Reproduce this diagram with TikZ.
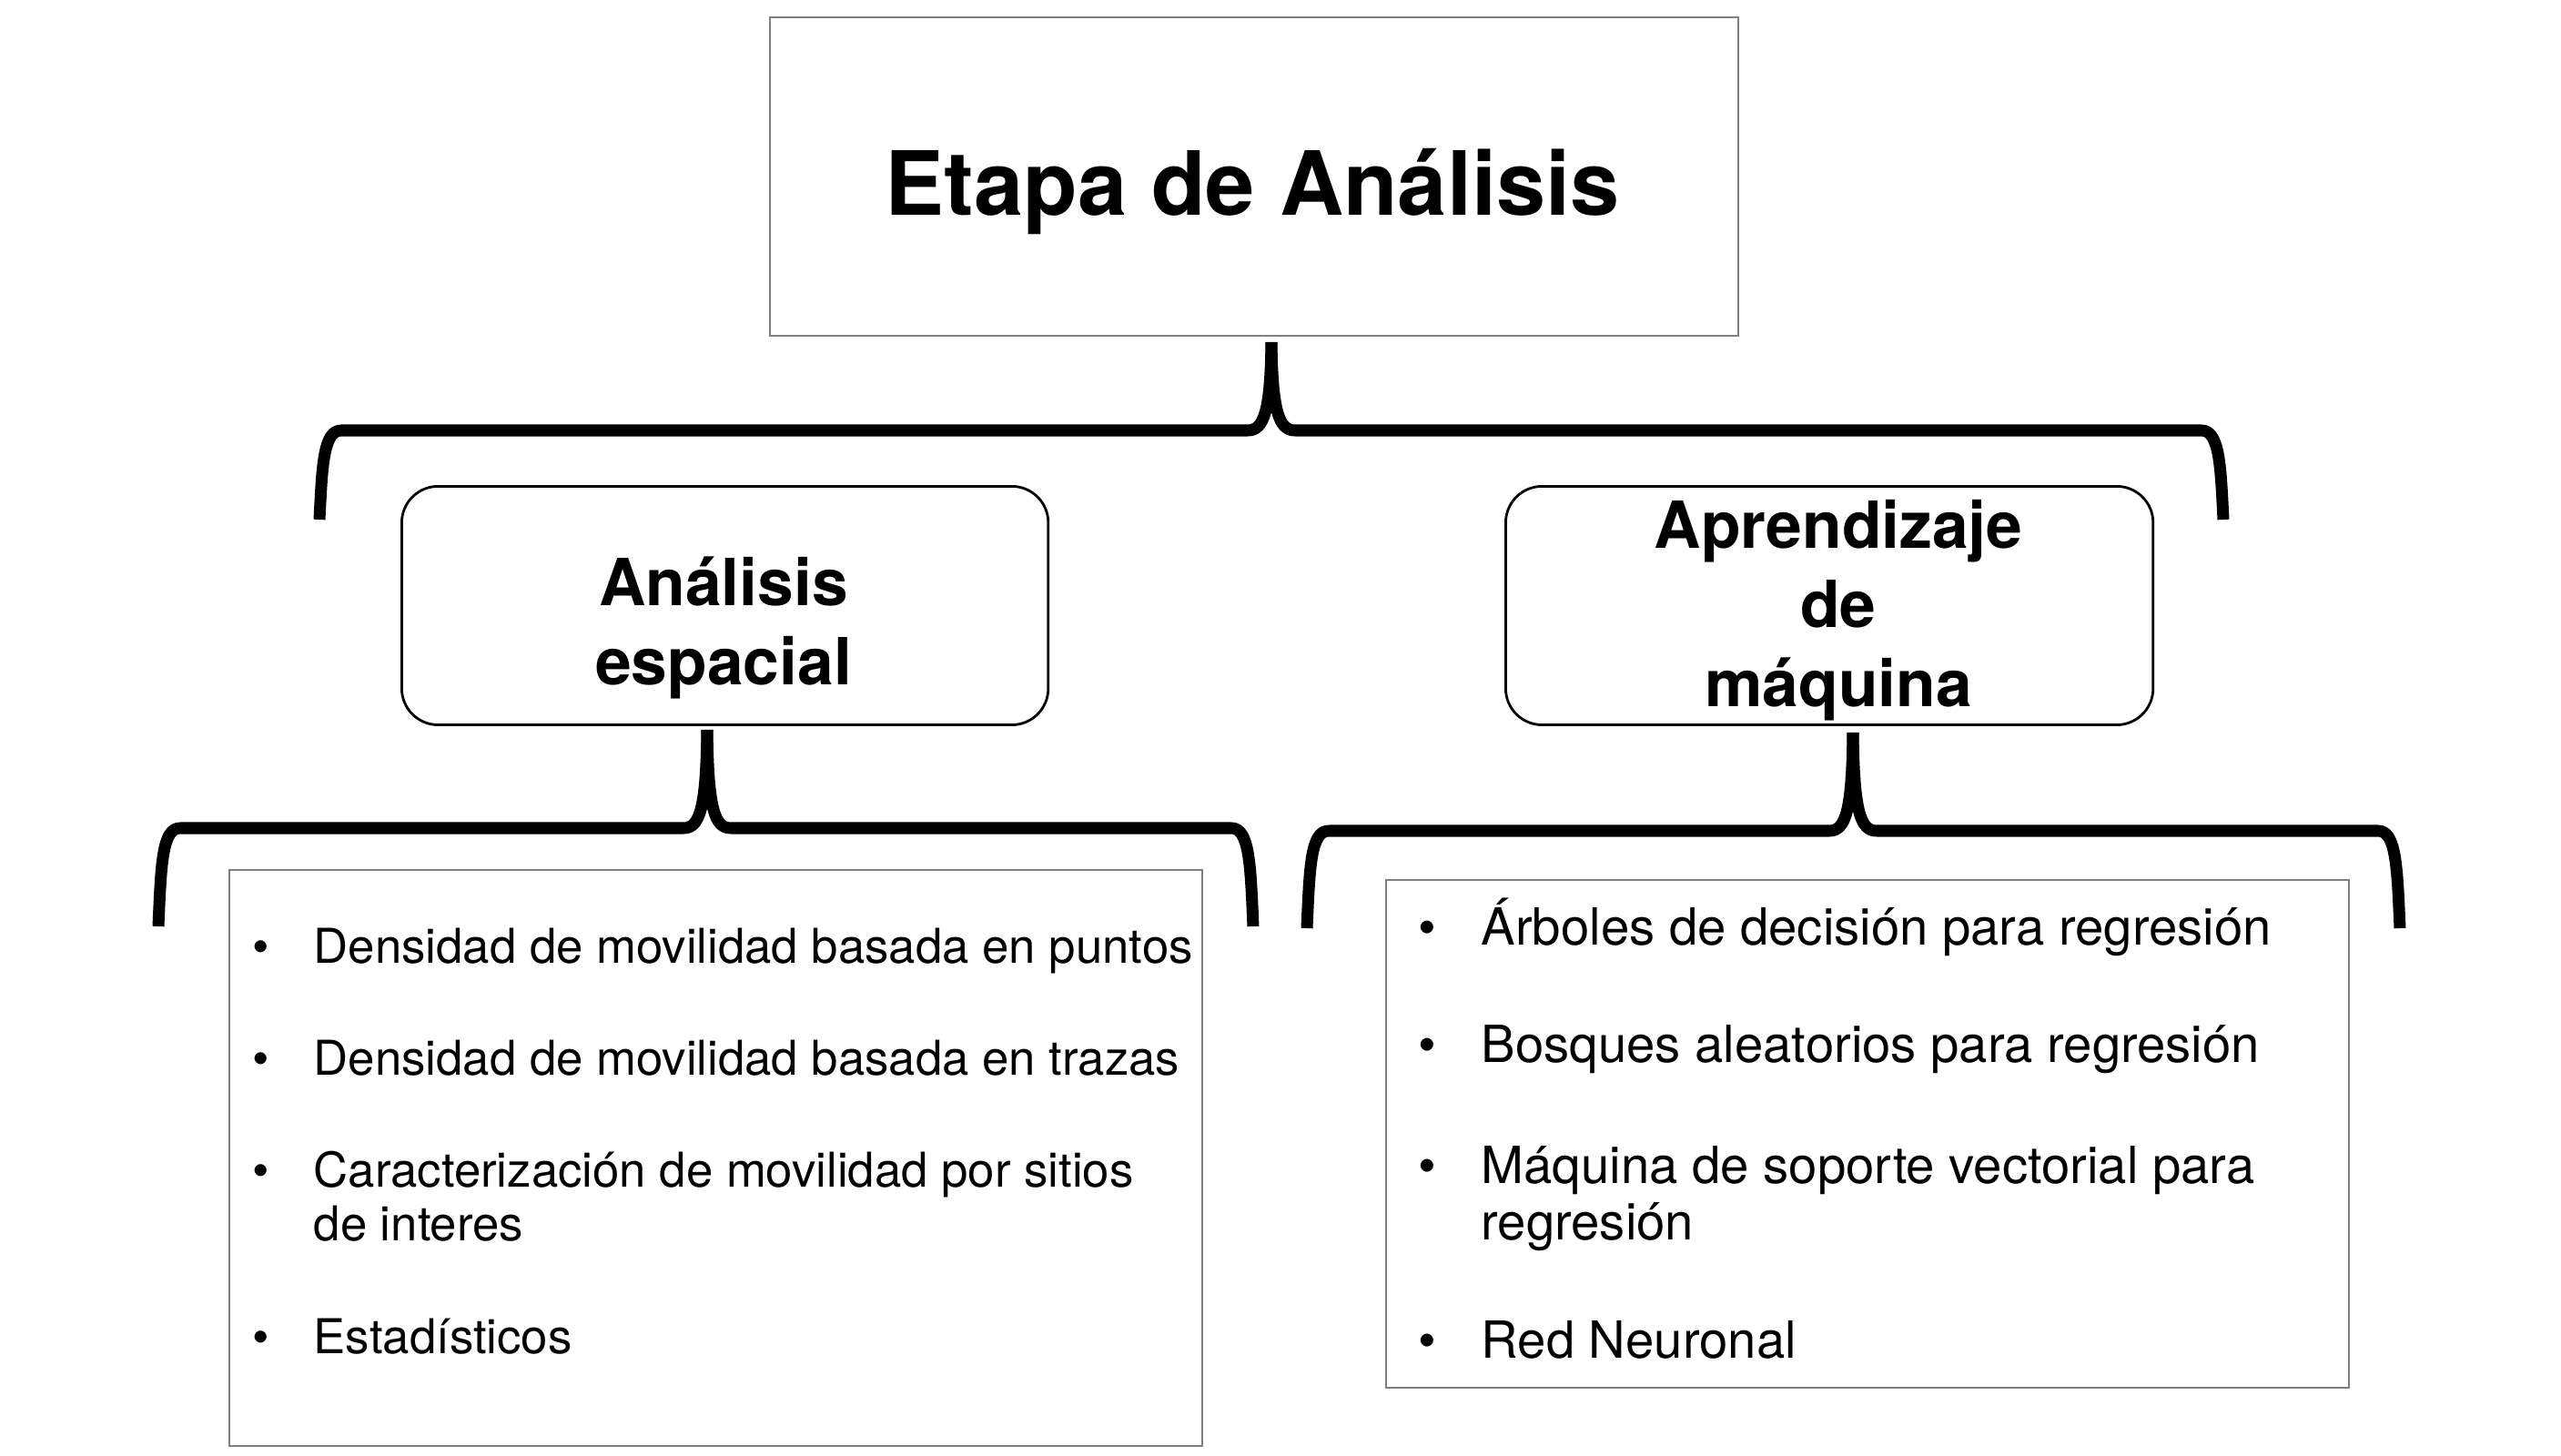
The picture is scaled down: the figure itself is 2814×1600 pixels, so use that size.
\documentclass[tikz,border=0pt]{standalone}
\usepackage{fontspec}
\setmainfont{TeX Gyre Heros}
\usetikzlibrary{positioning}
\definecolor{bordegris}{gray}{0.5}

% llave: punta x, punta y, linea y, extremo izq x, extremo der x, extremo y
\newcommand{\llave}[6]{%
  \draw[llave] (#4,#6) .. controls ({#4+3},{#3+40}) and ({#4+4},#3) .. ({#4+24},#3)
    -- ({#1-26},#3) .. controls ({#1-8},#3) and ({#1-1},{#3-22}) .. (#1,#2);
  \draw[llave] (#5,#6) .. controls ({#5-3},{#3+40}) and ({#5-4},#3) .. ({#5-24},#3)
    -- ({#1+26},#3) .. controls ({#1+8},#3) and ({#1+1},{#3-22}) .. (#1,#2);
}
\newcommand{\bala}{\llap{\textbullet\hspace{14pt}}}

\begin{document}
\begin{tikzpicture}[x=0.01cm,y=-0.01cm,
  cajagris/.style={draw=bordegris,line width=0.6pt,inner sep=0,anchor=north west},
  cajaredonda/.style={draw,line width=0.8pt,rounded corners=0.4cm,inner sep=0,anchor=north west},
  llave/.style={line width=3.7pt,line join=round},
  titulo/.style={font=\bfseries\fontsize{27.7}{34}\selectfont,anchor=base,inner sep=0},
  subtitulo/.style={font=\bfseries\fontsize{20.3}{24.7}\selectfont,anchor=base,inner sep=0,align=center},
  puntoizq/.style={font=\fontsize{15}{16.5}\selectfont,anchor=base west,inner sep=0,align=left},
  puntoder/.style={font=\fontsize{16}{17.6}\selectfont,anchor=base west,inner sep=0,align=left}]

  \useasboundingbox (0,0) rectangle (2814,1600);

  % caja principal
  \node[cajagris,minimum width=10.63cm,minimum height=3.5cm] (etapa) at (845,18) {};
  \node[titulo] (tituloetapa) at (1376,237) {Etapa de Análisis};

  % cajas intermedias (base = ultima linea)
  \node[cajaredonda,minimum width=7.1cm,minimum height=2.62cm] (espacial) at (440,533) {};
  \node[subtitulo] (txtespacial) at (795,752) {Análisis\\espacial};
  \node[cajaredonda,minimum width=7.11cm,minimum height=2.62cm] (maquina) at (1653,533) {};
  \node[subtitulo] (txtmaquina) at (2020,776) {Aprendizaje\\de\\máquina};

  % llaves
  \llave{1397}{376}{473}{351}{2443}{571}
  \llave{777}{802}{910}{174}{1377}{1018}
  \llave{2036}{805}{913}{1436}{2637}{1020}

  % listas
  \node[cajagris,minimum width=10.68cm,minimum height=6.33cm] (listaizq) at (251,955) {};
  \node[puntoizq] (izq1) at (344,1058) {\bala Densidad de movilidad basada en puntos};
  \node[puntoizq] (izq2) at (344,1181) {\bala Densidad de movilidad basada en trazas};
  \node[puntoizq] (izq3) at (344,1363) {\bala Caracterización de movilidad por sitios\\de interes};
  \node[puntoizq] (izq4) at (344,1487) {\bala Estadísticos};

  \node[cajagris,minimum width=10.57cm,minimum height=5.58cm] (listader) at (1522,966) {};
  \node[puntoder] (der1) at (1627,1038) {\bala Árboles de decisión para regresión};
  \node[puntoder] (der2) at (1627,1167) {\bala Bosques aleatorios para regresión};
  \node[puntoder] (der3) at (1627,1362) {\bala Máquina de soporte vectorial para\\regresión};
  \node[puntoder] (der4) at (1627,1492) {\bala Red Neuronal};
\end{tikzpicture}
\end{document}
